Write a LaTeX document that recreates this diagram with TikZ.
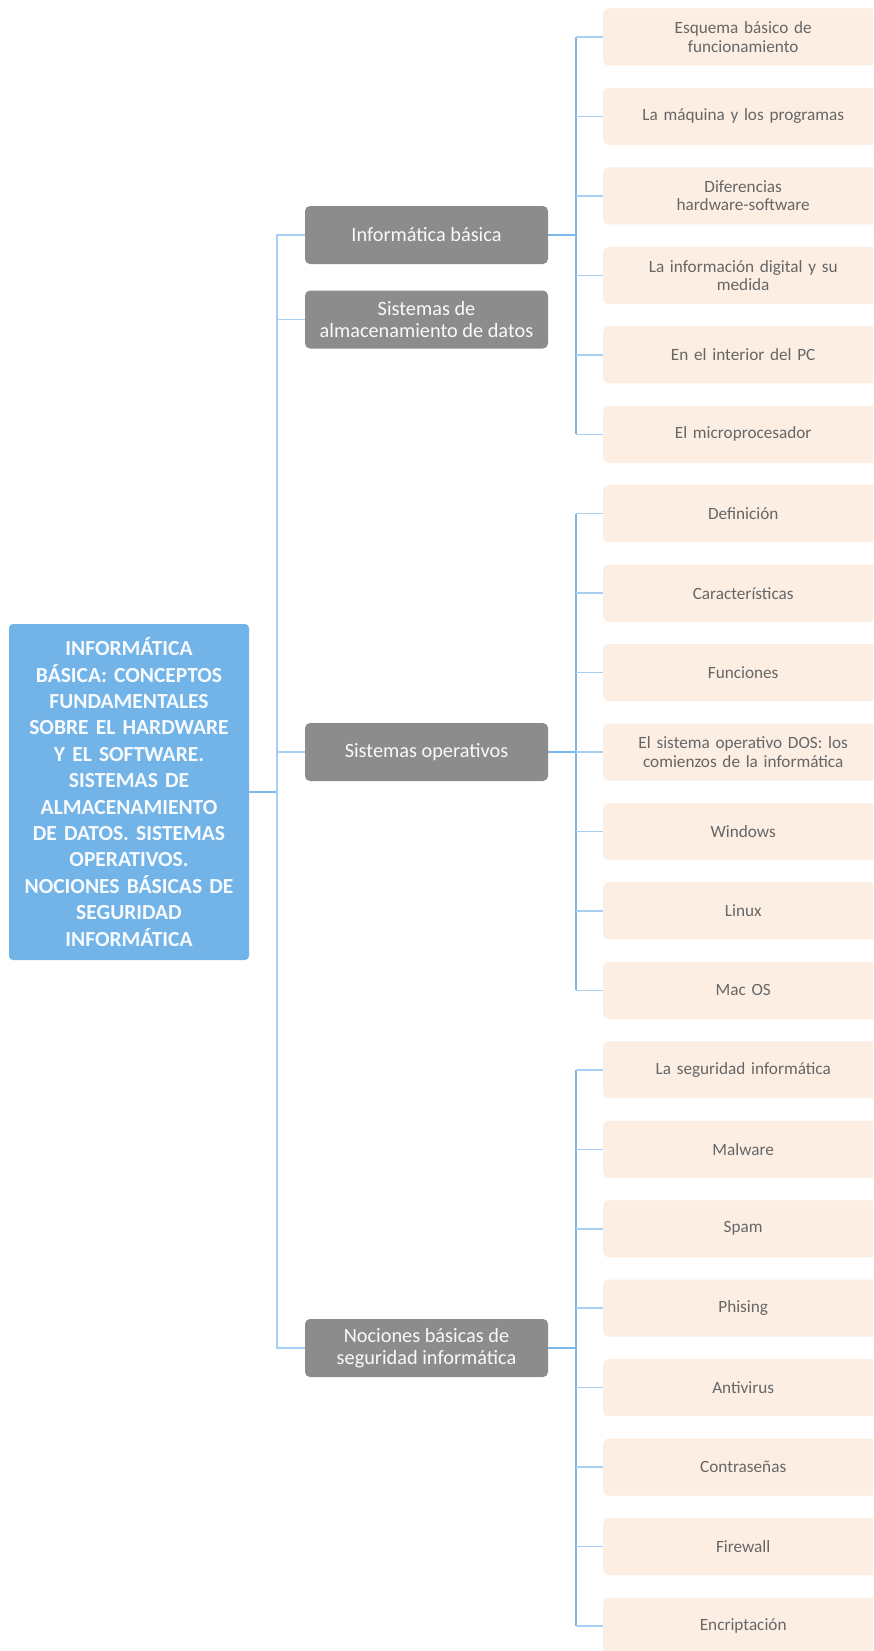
\documentclass[tikz,border=0pt]{standalone}
\usepackage{fontspec}
\setmainfont{Carlito}
\definecolor{rootblue}{HTML}{72B4E8}
\definecolor{graynode}{HTML}{8C8C8C}
\definecolor{leafbg}{HTML}{FDEEE3}
\definecolor{leaftext}{HTML}{666666}
\definecolor{busblue}{HTML}{7DB8EC}
\definecolor{tickblue}{HTML}{A8D0F4}
\begin{document}
\begin{tikzpicture}[x=1pt,y=-1pt,
  rootbox/.style={fill=rootblue, rounded corners=4pt, text=white!94!rootblue, minimum width=240pt, minimum height=336pt, text width=238pt, align=center, font=\fontsize{21.5}{26.4}\selectfont\bfseries, inner sep=0pt},
  graybox/.style={fill=graynode, rounded corners=5pt, text=white!95!graynode, minimum width=243pt, minimum height=58pt, align=center, font=\fontsize{20.3}{21.7}\selectfont, inner sep=0pt},
  leafbox/.style={fill=leafbg, rounded corners=5pt, text=leaftext, minimum width=280pt, minimum height=57pt, text width=260pt, align=center, font=\fontsize{17.2}{18.3}\selectfont, inner sep=0pt, anchor=west},
  busline/.style={draw=busblue, line width=2pt},
  tickline/.style={draw=tickblue, line width=1.5pt},
  trunkline/.style={draw=tickblue, line width=1.5pt},
  rootline/.style={draw=busblue, line width=2pt}
]
\clip (0,0) rectangle (873,1651);
\fill[white] (0,0) rectangle (873,1651);

\node[rootbox] (root) at (129,792) {INFORMÁTICA\\BÁSICA: CONCEPTOS\\FUNDAMENTALES\\SOBRE EL HARDWARE\\Y EL SOFTWARE.\\SISTEMAS DE\\ALMACENAMIENTO\\DE DATOS. SISTEMAS\\OPERATIVOS.\\NOCIONES BÁSICAS DE\\SEGURIDAD\\INFORMÁTICA};

\node[graybox] (g1) at (426.5,235) {Informática básica};
\node[graybox] (g2) at (426.5,319.5) {Sistemas de\\almacenamiento de datos};
\node[graybox] (g3) at (426.5,752) {Sistemas operativos};
\node[graybox] (g4) at (426.5,1348) {Nociones básicas de\\seguridad informática};

\def\ly#1{37+79.45*#1}
\node[leafbox] (l0) at (603,{\ly{0}}) {Esquema básico de\\funcionamiento};
\node[leafbox] (l1) at (603,{\ly{1}}) {La máquina y los programas};
\node[leafbox] (l2) at (603,{\ly{2}}) {Diferencias\\hardware-software};
\node[leafbox] (l3) at (603,{\ly{3}}) {La información digital y su\\medida};
\node[leafbox] (l4) at (603,{\ly{4}}) {En el interior del PC};
\node[leafbox] (l5) at (603,{\ly{5}}) {El microprocesador};
\node[leafbox] (l6) at (603,{\ly{6}}) {Definición};
\node[leafbox] (l7) at (603,{\ly{7}}) {Características};
\node[leafbox] (l8) at (603,{\ly{8}}) {Funciones};
\node[leafbox] (l9) at (603,{\ly{9}}) {El sistema operativo DOS: los\\comienzos de la informática};
\node[leafbox] (l10) at (603,{\ly{10}}) {Windows};
\node[leafbox] (l11) at (603,{\ly{11}}) {Linux};
\node[leafbox] (l12) at (603,{\ly{12}}) {Mac OS};
\node[leafbox] (l13) at (603,{\ly{13}}) {La seguridad informática};
\node[leafbox] (l14) at (603,{\ly{14}}) {Malware};
\node[leafbox] (l15) at (603,{\ly{15}}) {Spam};
\node[leafbox] (l16) at (603,{\ly{16}}) {Phising};
\node[leafbox] (l17) at (603,{\ly{17}}) {Antivirus};
\node[leafbox] (l18) at (603,{\ly{18}}) {Contraseñas};
\node[leafbox] (l19) at (603,{\ly{19}}) {Firewall};
\node[leafbox] (l20) at (603,{\ly{20}}) {Encriptación};

% trunk
\coordinate (T) at (277,792);
\draw[rootline] (root.east) -- (T);
\draw[trunkline] (g1.west) -| (T) |- (g4.west);
\draw[trunkline] (g2.west) -- (g2.west -| T);
\draw[trunkline] (g3.west) -- (g3.west -| T);

% buses
\coordinate (B) at (576,0);
\foreach \g/\a/\b in {g1/0/5, g3/6/12, g4/13/20}{
  \draw[busline] (\g.east) -- (\g.east -| B);
  \draw[busline] (B |- l\a.west) -- (B |- l\b.west);
  \pgfmathtruncatemacro{\bb}{\b}
  \foreach \i in {\a,...,\bb}{
    \draw[tickline] (B |- l\i.west) -- (l\i.west);
  }
}
\end{tikzpicture}
\end{document}
